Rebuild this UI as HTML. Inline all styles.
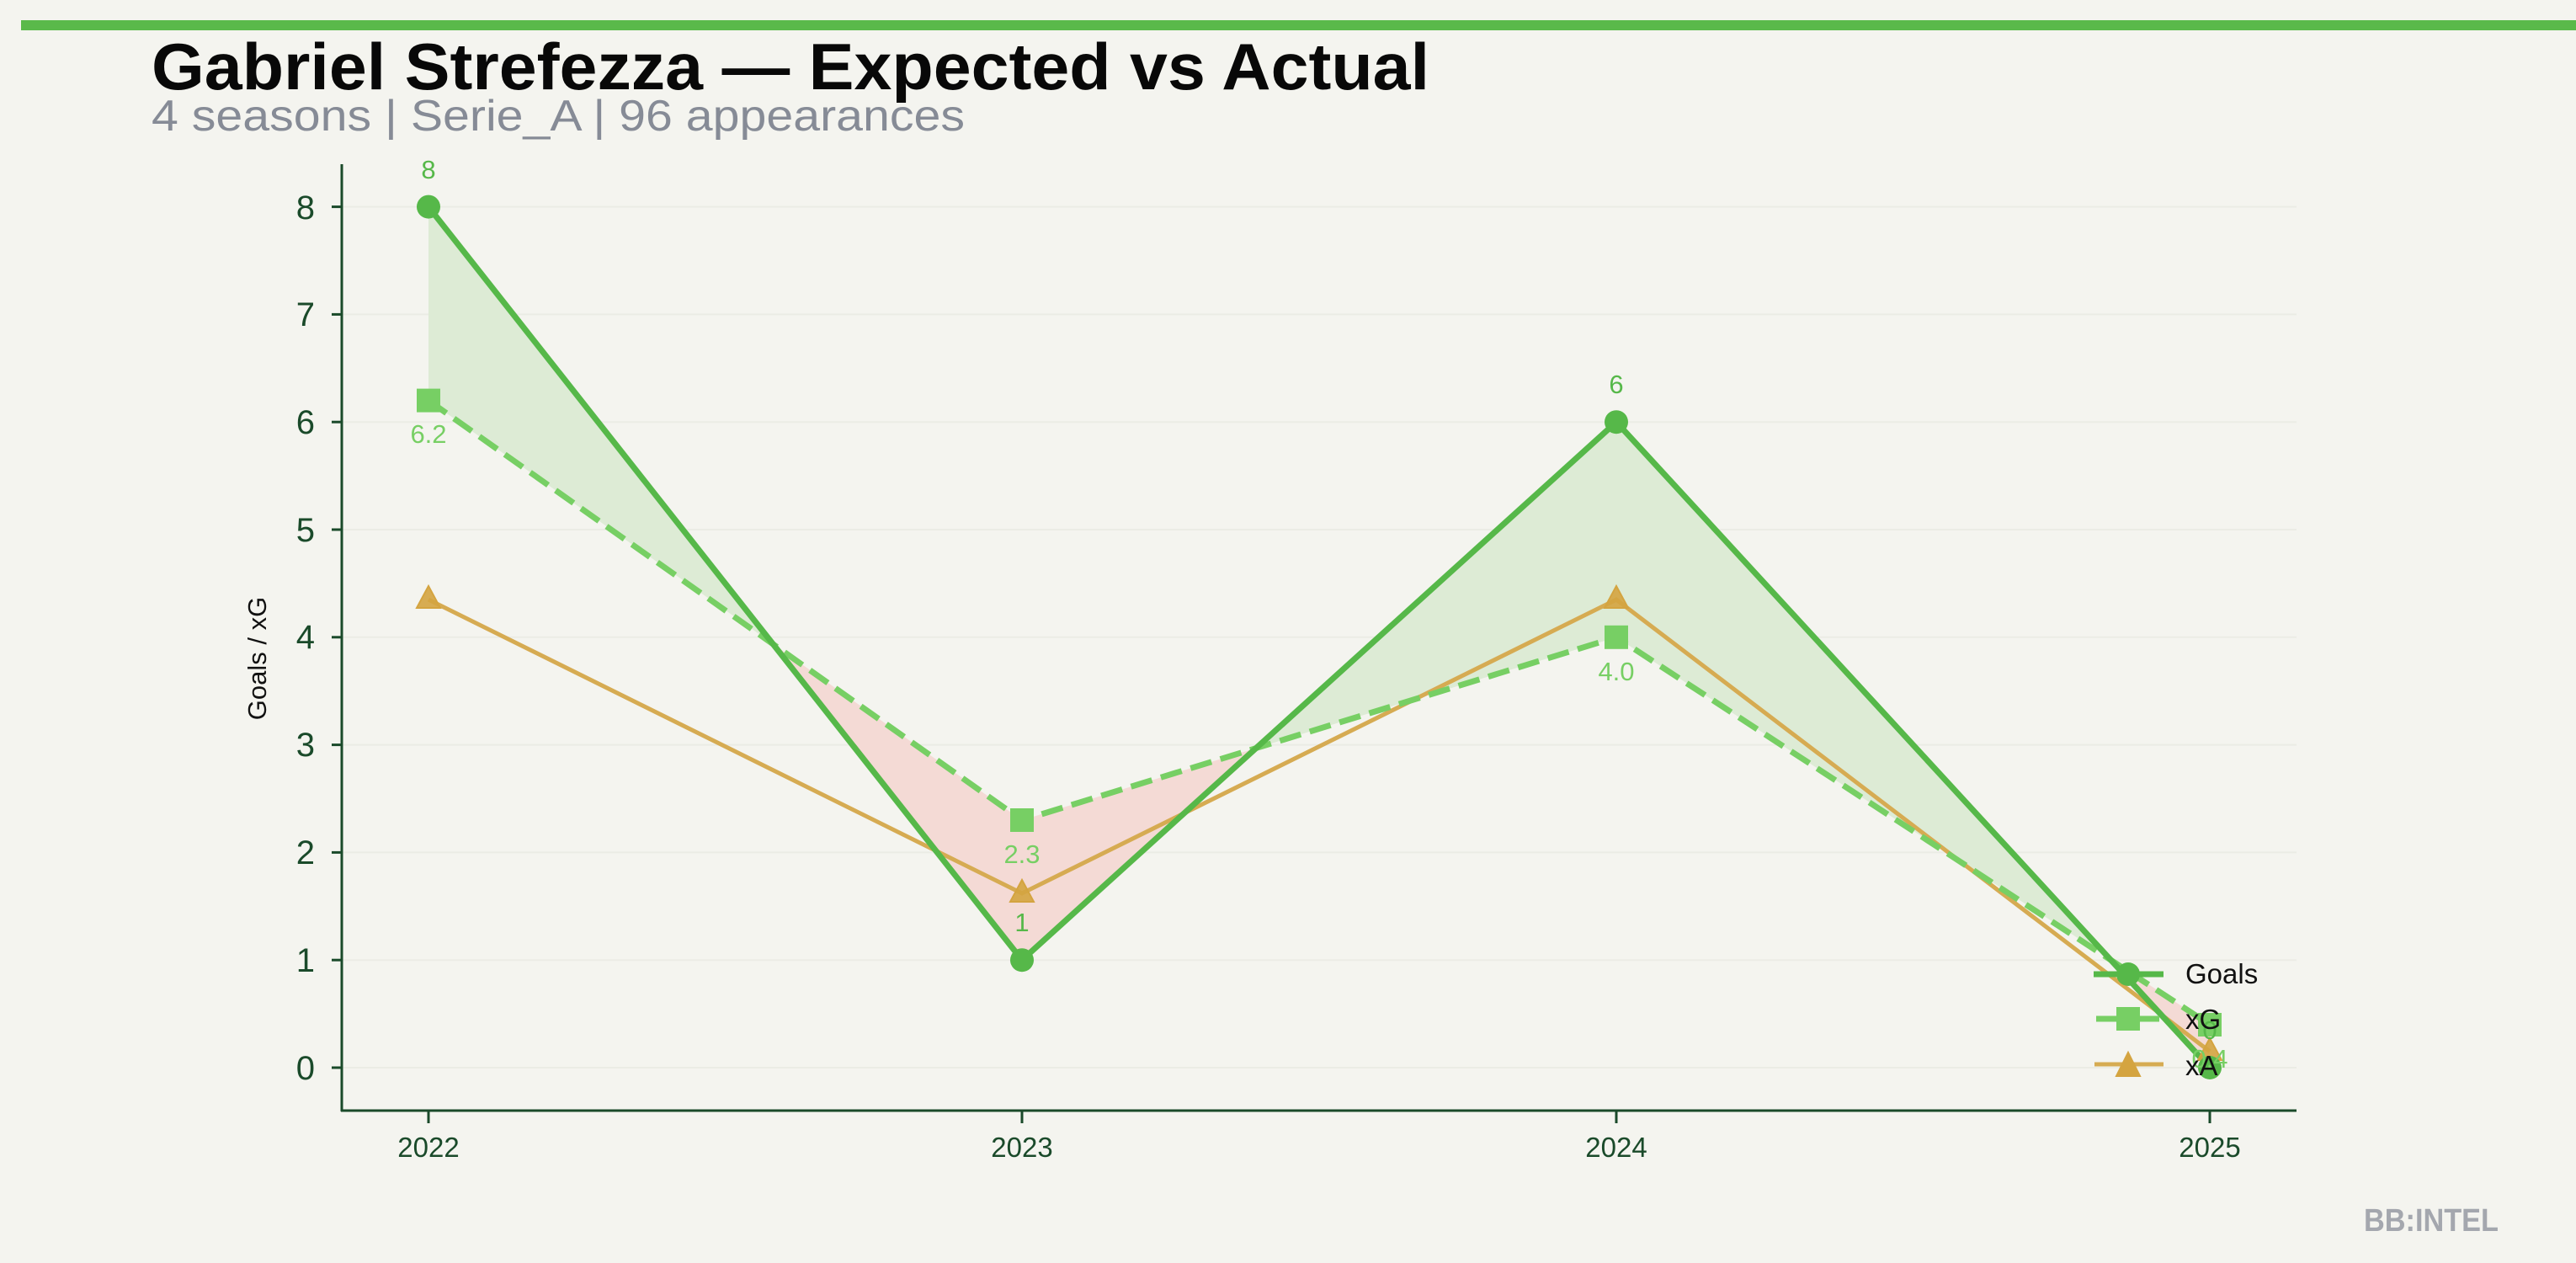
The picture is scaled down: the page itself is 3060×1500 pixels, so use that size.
<!DOCTYPE html>
<html><head><meta charset="utf-8"><style>
html,body{margin:0;padding:0;background:#f4f4ef;}
svg{display:block;font-family:"Liberation Sans",sans-serif;}
</style></head><body>
<svg width="3060" height="1500" viewBox="0 0 3060 1500">
<rect width="3060" height="1500" fill="#f4f4ef"/>
<rect x="25" y="24" width="3035" height="12" fill="#5ab94a"/>
<text x="180" y="106" font-size="78" font-weight="bold" fill="#080808" textLength="1518" lengthAdjust="spacingAndGlyphs">Gabriel Strefezza — Expected vs Actual</text>
<text x="180" y="155" font-size="52" fill="#868b96" textLength="966" lengthAdjust="spacingAndGlyphs">4 seasons | Serie_A | 96 appearances</text>
<g stroke="#ebece5" stroke-width="2">
<line x1="406" x2="2728" y1="1268" y2="1268"/><line x1="406" x2="2728" y1="1140.2" y2="1140.2"/>
<line x1="406" x2="2728" y1="1012.4" y2="1012.4"/><line x1="406" x2="2728" y1="884.6" y2="884.6"/>
<line x1="406" x2="2728" y1="756.8" y2="756.8"/><line x1="406" x2="2728" y1="629" y2="629"/>
<line x1="406" x2="2728" y1="501.2" y2="501.2"/><line x1="406" x2="2728" y1="373.4" y2="373.4"/>
<line x1="406" x2="2728" y1="245.6" y2="245.6"/>
</g>
<polygon points="509,245.6 918,764.5 509,475.6" fill="#ddebd5"/>
<polygon points="918,764.5 1214,1140.2 1492,888.5 1214,974.1" fill="#f4dad5"/>
<polygon points="1492,888.5 1920,501.2 2508,1140 1920,756.8" fill="#ddebd5"/>
<polygon points="2508,1140 2625,1268 2625,1216.9" fill="#f4dad5"/>
<polyline points="509,712.1 1214,1061 1920,712.1 2625,1248.8" fill="none" stroke="#d6ab52" stroke-width="5"/>
<polyline points="509,475.6 1214,974.1 1920,756.8 2625,1216.9" fill="none" stroke="#77cf64" stroke-width="7" stroke-dasharray="26,11"/>
<polyline points="509,245.6 1214,1140.2 1920,501.2 2625,1268" fill="none" stroke="#56b849" stroke-width="7"/>
<g fill="#d4a440" fill-opacity="0.9" stroke="#d4a440" stroke-width="2">
<polygon points="509,696 495,722 523,722"/><polygon points="1214,1045 1200,1071 1228,1071"/>
<polygon points="1920,696 1906,722 1934,722"/><polygon points="2625,1233 2611,1259 2639,1259"/>
</g>
<g fill="#77cf64">
<rect x="495" y="461.6" width="28" height="28"/><rect x="1200" y="960" width="28" height="28"/>
<rect x="1906" y="742.8" width="28" height="28"/><rect x="2611" y="1203" width="28" height="28"/>
</g>
<g fill="#56b849">
<circle cx="509" cy="245.6" r="14"/><circle cx="1214" cy="1140.2" r="14"/>
<circle cx="1920" cy="501.2" r="14"/><circle cx="2625" cy="1268" r="14"/>
</g>
<g font-size="31" text-anchor="middle">
<text x="509" y="212" fill="#56b849">8</text>
<text x="1214" y="1106" fill="#56b849">1</text>
<text x="1920" y="467" fill="#56b849">6</text>
<text x="2625" y="1234" fill="#56b849">0</text>
<text x="509" y="526" fill="#77cf64">6.2</text>
<text x="1214" y="1025" fill="#77cf64">2.3</text>
<text x="1920" y="808" fill="#77cf64">4.0</text>
<text x="2625" y="1268" fill="#77cf64">0.4</text>
</g>
<g stroke="#1a4a2a" stroke-width="3">
<line x1="406" y1="195" x2="406" y2="1320"/><line x1="405" y1="1319" x2="2728" y2="1319"/>
<line x1="509" y1="1319" x2="509" y2="1334"/><line x1="1214" y1="1319" x2="1214" y2="1334"/>
<line x1="1920" y1="1319" x2="1920" y2="1334"/><line x1="2625" y1="1319" x2="2625" y2="1334"/>
<line x1="394" y1="1268" x2="406" y2="1268"/><line x1="394" y1="1140.2" x2="406" y2="1140.2"/>
<line x1="394" y1="1012.4" x2="406" y2="1012.4"/><line x1="394" y1="884.6" x2="406" y2="884.6"/>
<line x1="394" y1="756.8" x2="406" y2="756.8"/><line x1="394" y1="629" x2="406" y2="629"/>
<line x1="394" y1="501.2" x2="406" y2="501.2"/><line x1="394" y1="373.4" x2="406" y2="373.4"/>
<line x1="394" y1="245.6" x2="406" y2="245.6"/>
</g>
<g font-size="40" fill="#1a4a2a" text-anchor="end">
<text x="374" y="1282">0</text><text x="374" y="1154">1</text><text x="374" y="1026">2</text>
<text x="374" y="898">3</text><text x="374" y="770">4</text><text x="374" y="643">5</text>
<text x="374" y="515">6</text><text x="374" y="387">7</text><text x="374" y="260">8</text>
</g>
<g font-size="33" fill="#1a4a2a" text-anchor="middle">
<text x="509" y="1374">2022</text><text x="1214" y="1374">2023</text>
<text x="1920" y="1374">2024</text><text x="2625" y="1374">2025</text>
</g>
<text transform="translate(316,782) rotate(-90)" font-size="31" fill="#111" text-anchor="middle">Goals / xG</text>
<line x1="2487" y1="1157" x2="2570" y2="1157" stroke="#56b849" stroke-width="7"/>
<circle cx="2528" cy="1157" r="14" fill="#56b849"/>
<line x1="2490" y1="1210" x2="2565" y2="1210" stroke="#77cf64" stroke-width="7"/>
<rect x="2514" y="1196" width="28" height="28" fill="#77cf64"/>
<line x1="2488" y1="1264" x2="2570" y2="1264" stroke="#d6ab52" stroke-width="5"/>
<polygon points="2528,1250 2514,1278 2542,1278" fill="#d4a440" stroke="#d4a440" stroke-width="2"/>
<g font-size="33" fill="#111">
<text x="2596" y="1168">Goals</text><text x="2596" y="1222">xG</text><text x="2596" y="1277">xA</text>
</g>
<text x="2808" y="1462" font-size="38" font-weight="bold" fill="#a4a7ae" textLength="160" lengthAdjust="spacingAndGlyphs">BB:INTEL</text>
</svg>
</body></html>
